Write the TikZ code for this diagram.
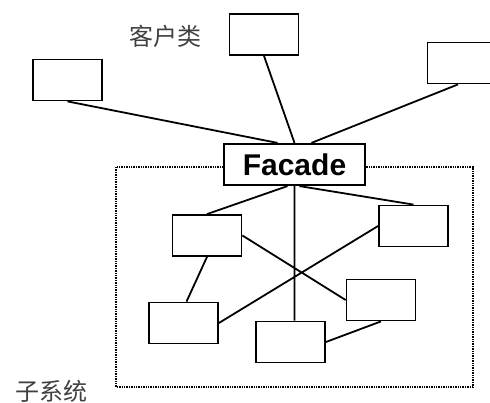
\documentclass[tikz,border=0pt]{standalone}
\usepackage{fontspec}
\setsansfont{Liberation Sans}
\newfontfamily\cjk{Noto Sans CJK SC}
\usepackage{tikz}
\usetikzlibrary{positioning}
\tikzset{
  cls/.style={draw,line width=1.8pt,fill=white,minimum width=69pt,minimum height=41pt,inner sep=0pt},
  facade/.style={draw,line width=2.2pt,fill=white,minimum width=141pt,minimum height=41pt,inner sep=0pt,
    font=\sffamily\bfseries\fontsize{30}{30}\selectfont},
  lbl/.style={font=\cjk\fontsize{24}{24}\selectfont,text=black!75}
}

\begin{document}
\begin{tikzpicture}[x=1pt,y=-1pt]
\useasboundingbox (0,0) rectangle (490,403);
\draw[line width=1.4pt,densely dotted] (116,167) rectangle (473,387);

\node[cls](c1) at (67.5,80) {};
\node[cls](c2) at (264,34.5) {};
\node[cls](c3) at (462,63) {};
\node[facade](fac) at (294.5,164.5) {Facade};

\node[cls](sa) at (207,235.5) {};
\node[cls](sb) at (413.5,226) {};
\node[cls](sc) at (183.5,323) {};
\node[cls](sd) at (290.5,342) {};
\node[cls](se) at (381,300) {};

\node[lbl](client) at (165,36) {客户类};
\node[lbl](subsys) at (52,391) {子系统};

\draw[line width=1.8pt]
  (c1.south) -- ([xshift=-17pt]fac.north)
  (c2.south) -- (fac.north)
  ([xshift=-4pt]c3.south) -- ([xshift=17pt]fac.north)
  ([xshift=-7pt]fac.south) -- (sa.north)
  ([xshift=5pt]fac.south) -- (sb.north)
  (fac.south) -- (fac.south |- sd.north)
  (sa.east) -- (se.west)
  (sb.west) -- (sc.east)
  (sa.south) -- ([xshift=3pt]sc.north)
  (sd.east) -- (se.south);
\end{tikzpicture}
\end{document}
